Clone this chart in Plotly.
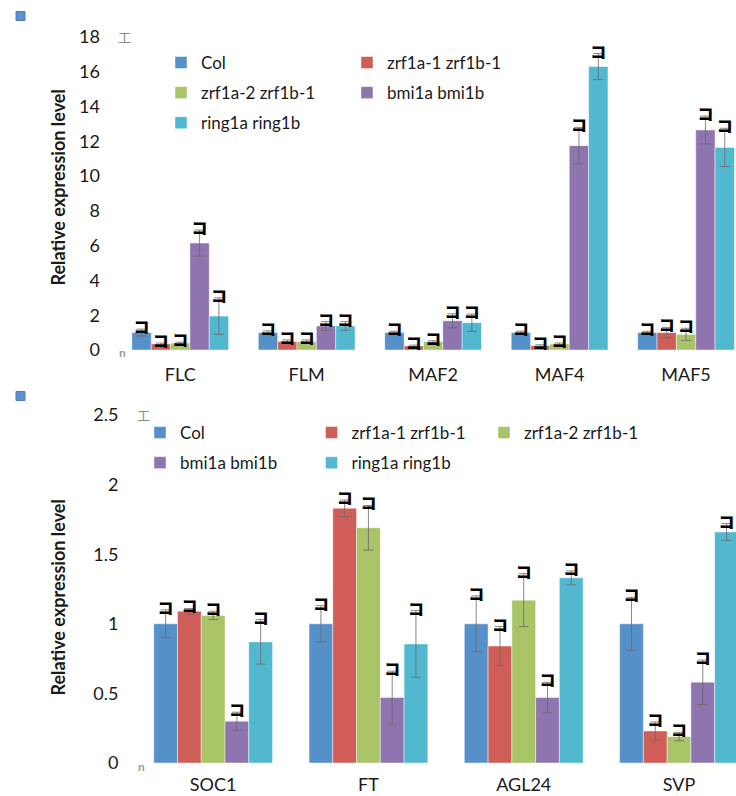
import plotly.graph_objects as go

W, H = 736, 796

series = ['Col', 'zrf1a-1 zrf1b-1', 'zrf1a-2 zrf1b-1', 'bmi1a bmi1b', 'ring1a ring1b']
colors = ['#5690C9', '#CF5E59', '#A8C467', '#8E75AF', '#51B8CF']

# top panel
top_genes = ['FLC', 'FLM', 'MAF2', 'MAF4', 'MAF5']
top_col = [1.0, 1.0, 1.0, 1.0, 1.0]
top_zrf1 = [0.35, 0.48, 0.23, 0.25, 1.0]
top_zrf2 = [0.4, 0.48, 0.48, 0.35, 0.9]
top_bmi = [6.15, 1.38, 1.68, 11.75, 12.65]
top_ring = [1.95, 1.38, 1.57, 16.3, 11.65]
top_col_err = [0.2, 0.1, 0.08, 0.08, 0.08]
top_zrf1_err = [0.05, 0.1, 0.05, 0.05, 0.3]
top_zrf2_err = [0.05, 0.1, 0.05, 0.05, 0.35]
top_bmi_err = [0.75, 0.25, 0.4, 1.05, 0.8]
top_ring_err = [1.05, 0.25, 0.5, 0.75, 1.1]

# bottom panel
bot_genes = ['SOC1', 'FT', 'AGL24', 'SVP']
bot_col = [1.0, 1.0, 1.0, 1.0]
bot_zrf1 = [1.09, 1.83, 0.84, 0.23]
bot_zrf2 = [1.06, 1.69, 1.17, 0.19]
bot_bmi = [0.3, 0.47, 0.47, 0.58]
bot_ring = [0.87, 0.855, 1.33, 1.66]
bot_col_err = [0.1, 0.13, 0.2, 0.19]
bot_zrf1_err = [0.02, 0.06, 0.14, 0.065]
bot_zrf2_err = [0.03, 0.16, 0.19, 0.03]
bot_bmi_err = [0.065, 0.19, 0.11, 0.16]
bot_ring_err = [0.16, 0.24, 0.05, 0.06]

y_title = 'Relative expression level'

FONT = 'Lato, Open Sans, sans-serif'

top_vals = [top_col, top_zrf1, top_zrf2, top_bmi, top_ring]
top_errs = [top_col_err, top_zrf1_err, top_zrf2_err, top_bmi_err, top_ring_err]
bot_vals = [bot_col, bot_zrf1, bot_zrf2, bot_bmi, bot_ring]
bot_errs = [bot_col_err, bot_zrf1_err, bot_zrf2_err, bot_bmi_err, bot_ring_err]

top_legends = ['legend', 'legend2', 'legend', 'legend2', 'legend']
bot_legends = ['legend3', 'legend4', 'legend5', 'legend3', 'legend4']

fig = go.Figure()


def add_panel(genes, vals, errs, legends, xa, ya, tag):
    for i in range(5):
        fig.add_trace(go.Bar(
            x=genes, y=vals[i], name=series[i],
            marker=dict(color=colors[i], line=dict(color='rgba(255,255,255,0.45)', width=1)),
            error_y=dict(type='data', array=errs[i], color='#6a6a6a', thickness=0.8, width=5),
            legend=legends[i], legendgroup=f'{tag}{i}',
            xaxis=xa, yaxis=ya,
        ))
    # odd bracket glyphs sitting on the upper error caps
    for i in range(5):
        fig.add_trace(go.Scatter(
            x=genes, y=[v + e for v, e in zip(vals[i], errs[i])],
            mode='text', text='コ', textposition='middle center',
            textfont=dict(family='Noto Sans CJK JP', size=16, color='black', weight=900),
            showlegend=False, hoverinfo='skip', xaxis=xa, yaxis=ya,
        ))


add_panel(top_genes, top_vals, top_errs, top_legends, 'x', 'y', 'top')
add_panel(bot_genes, bot_vals, bot_errs, bot_legends, 'x2', 'y2', 'bot')


def px_x(p):
    return p / W


def px_y(p):
    return 1 - p / H


tick_font = dict(family=FONT, size=18, color='#1a1a1a')
title_font = dict(family=FONT, size=18, color='#1a1a1a', weight='bold')
leg_font = dict(family=FONT, size=17, color='#1a1a1a')

cat_axis = dict(showgrid=False, showline=False, zeroline=False, ticks='',
                tickfont=tick_font, automargin=False)
val_axis = dict(showgrid=False, showline=False, zeroline=False, ticks='',
                tickfont=tick_font, ticklabelstandoff=16, automargin=False)

fig.update_layout(
    width=W, height=H,
    margin=dict(l=0, r=0, t=0, b=0),
    plot_bgcolor='white', paper_bgcolor='white',
    barmode='group', bargap=0.235,
    scattermode='group', scattergap=0.235,
    xaxis=dict(cat_axis, domain=[px_x(117), 1], range=[-0.5, 4.395],
               ticklabelstandoff=12, anchor='y'),
    yaxis=dict(val_axis, domain=[px_y(350), px_y(37)], range=[0, 18], dtick=2, anchor='x'),
    xaxis2=dict(cat_axis, domain=[px_x(135.5), 1], range=[-0.5, 3.367],
                ticklabelstandoff=9, anchor='y2'),
    yaxis2=dict(val_axis, domain=[px_y(763), px_y(415)], range=[0, 2.5], dtick=0.5, anchor='x2'),
    legend=dict(x=px_x(161), y=px_y(45), xanchor='left', yanchor='top', font=leg_font,
                tracegroupgap=5, bgcolor='rgba(0,0,0,0)'),
    legend2=dict(x=px_x(347), y=px_y(45), xanchor='left', yanchor='top', font=leg_font,
                 tracegroupgap=5, bgcolor='rgba(0,0,0,0)'),
    legend3=dict(x=px_x(140), y=px_y(415), xanchor='left', yanchor='top', font=leg_font,
                 tracegroupgap=5, bgcolor='rgba(0,0,0,0)'),
    legend4=dict(x=px_x(311.5), y=px_y(415), xanchor='left', yanchor='top', font=leg_font,
                 tracegroupgap=5, bgcolor='rgba(0,0,0,0)'),
    legend5=dict(x=px_x(484), y=px_y(415), xanchor='left', yanchor='top', font=leg_font,
                 tracegroupgap=5, bgcolor='rgba(0,0,0,0)'),
    showlegend=True,
)

# value-axis titles, placed where the reference has them
for yc in (187.5, 597.5):
    fig.add_annotation(xref='paper', yref='paper', x=px_x(57), y=px_y(yc), text=y_title,
                       textangle=-90, showarrow=False, font=title_font,
                       xanchor='center', yanchor='middle')

# small blue markers at the top-left of each panel
for yc in (16, 396):
    fig.add_shape(type='rect', xref='paper', yref='paper',
                  x0=px_x(16), x1=px_x(25), y0=px_y(yc + 4.5), y1=px_y(yc - 4.5),
                  fillcolor='#5b8fd0', line=dict(color='#4a7fc0', width=1))

# grey glyphs at the ends of the value axes
for xa, ya, top in (('x', 'y', 18), ('x2', 'y2', 2.5)):
    fig.add_annotation(xref=f'{xa} domain', yref=ya, x=0, y=top, text='工', showarrow=False,
                       xshift=-1, font=dict(family='Noto Sans CJK JP', size=13, color='#8c8c8c'))
    fig.add_annotation(xref=f'{xa} domain', yref=ya, x=0, y=0, text='n', showarrow=False,
                       yshift=-3, font=dict(family=FONT, size=12, color='#9a9a9a', weight='bold'))

# drop the default page margin so the figure fills the window exactly
fig.write_html('out.html', config={'displayModeBar': False},
               post_script="document.body.style.margin='0';")
